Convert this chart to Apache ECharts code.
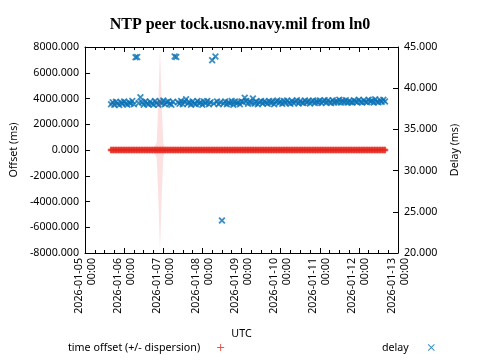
<!DOCTYPE html>
<html>
<head>
<meta charset="utf-8">
<script src="https://cdn.jsdelivr.net/npm/echarts@6/dist/echarts.min.js"></script>
<style>html,body{margin:0;padding:0;background:#fff;}#c{width:480px;height:360px;}</style>
</head>
<body>
<div id="c"></div>
<script>
// ---- data ----
const titleText = 'NTP peer tock.usno.navy.mil from ln0';
const sampleStartUTC = Date.UTC(2026, 0, 5, 16, 0);   // first sample
const sampleStepMs = 3600000;                          // hourly samples
const xTickStart = Date.UTC(2026, 0, 5);
const xTickEnd = Date.UTC(2026, 0, 13);
const offsetTicks = [-8000, -6000, -4000, -2000, 0, 2000, 4000, 6000, 8000];
const delayTicks = [20, 25, 30, 35, 40, 45];

// time offset (ms)
const offsetMs = [
  0.4, -0.2, 0.1, 0.6, -0.3, 0.2, 0.0, -0.5, 0.3, 0.1, -0.1, 0.5,
  0.2, -0.4, 0.3, 0.0, 0.6, -0.2, 0.1, -0.3, 0.4, 0.2, -0.1, 0.3,
  -0.2, 0.5, 0.1, -0.4, 0.2, 0.3, 0.0, -0.3, 0.4, 0.1, -0.2, 0.2,
  0.3, -0.1, 0.5, 0.0, -0.3, 0.2, 0.4, -0.2, 0.1, 0.3, -0.4, 0.2,
  0.1, 0.4, -0.2, 0.3, 0.0, -0.1, 0.5, 0.2, -0.3, 0.1, 0.3, -0.2,
  0.2, 0.0, 0.4, -0.3, 0.1, 0.3, -0.1, 0.2, 0.5, -0.2, 0.0, 0.3,
  -0.1, 0.4, 0.2, -0.3, 0.1, 0.3, 0.0, -0.2, 0.4, 0.1, -0.4, 0.2,
  0.3, -0.1, 0.1, 0.5, -0.2, 0.2, 0.0, -0.3, 0.3, 0.1, -0.1, 0.4,
  0.2, -0.2, 0.3, 0.0, 0.1, -0.4, 0.5, 0.2, -0.1, 0.3, 0.0, -0.2,
  0.4, 0.1, -0.3, 0.2, 0.3, -0.1, 0.0, 0.4, -0.2, 0.1, 0.3, -0.3,
  0.2, 0.0, 0.5, -0.1, 0.1, 0.3, -0.2, 0.2, 0.4, -0.3, 0.0, 0.1,
  0.3, -0.2, 0.2, 0.4, -0.1, 0.0, 0.3, -0.4, 0.1, 0.2, -0.1, 0.5,
  0.0, 0.2, -0.3, 0.3, 0.1, -0.2, 0.4, 0.0, -0.1, 0.3, 0.2, -0.3,
  0.1, 0.4, -0.2, 0.2, 0.0, 0.3, -0.1, 0.1, 0.5, -0.2, 0.2, 0.0,
  0.3
];
// dispersion (ms)
const dispersionMs = [
  42, 38, 45, 40, 36, 44, 39, 41, 47, 37, 43, 40,
  38, 46, 41, 39, 44, 37, 42, 40, 45, 38, 43, 41,
  39, 44, 40, 46, 600, 3800, 7900, 3800, 600, 41, 39, 44,
  40, 37, 45, 42, 38, 43, 41, 39, 46, 40, 37, 44,
  42, 38, 45, 41, 39, 43, 40, 44, 37, 42, 46, 39,
  41, 45, 38, 43, 40, 37, 44, 42, 39, 46, 41, 38,
  43, 40, 45, 39, 42, 37, 44, 41, 38, 46, 40, 43,
  39, 42, 45, 38, 41, 44, 40, 37, 43, 46, 39, 42,
  40, 38, 44, 41, 45, 39, 42, 37, 43, 40, 46, 38,
  41, 44, 39, 42, 37, 45, 40, 43, 38, 41, 46, 39,
  42, 40, 37, 44, 41, 38, 45, 39, 43, 40, 42, 46,
  38, 41, 44, 39, 42, 37, 45, 40, 43, 38, 41, 44,
  39, 46, 40, 42, 38, 43, 41, 37, 44, 39, 45, 40,
  42, 38, 43, 41, 46, 39, 40, 44, 37, 42, 41, 45,
  40
];
// delay (ms)
const delayMs = [
  38.05, 38.3, 38.0, 38.35, 38.15, 37.95, 38.3, 38.1, 38.4, 38.15, 38.0, 38.3,
  38.15, 38.45, 38.05, 43.75, 43.8, 38.2, 38.9, 38.3, 38.0, 38.4, 38.15, 38.05,
  38.35, 38.15, 38.0, 38.45, 38.2, 38.0, 38.4, 38.15, 38.5, 38.05, 38.3, 38.4,
  38.1, 38.0, 38.35, 43.85, 43.8, 38.3, 38.1, 38.45, 38.05, 38.35, 38.65, 38.15,
  38.3, 38.0, 38.4, 38.15, 38.05, 38.45, 38.15, 38.3, 38.0, 38.4, 38.15, 38.45,
  38.05, 38.3, 43.4, 38.15, 43.85, 38.4, 38.05, 38.3, 23.95, 38.15, 38.4, 38.05,
  38.3, 38.15, 38.45, 38.0, 38.4, 38.15, 38.3, 38.05, 38.4, 38.3, 38.85, 38.45,
  38.1, 38.4, 38.2, 38.75, 38.15, 38.4, 38.05, 38.3, 38.45, 38.15, 38.4, 38.25,
  38.1, 38.45, 38.2, 38.4, 38.05, 38.35, 38.5, 38.2, 38.4, 38.1, 38.45, 38.2,
  38.5, 38.25, 38.1, 38.45, 38.2, 38.35, 38.55, 38.15, 38.45, 38.25, 38.2, 38.5,
  38.25, 38.45, 38.15, 38.35, 38.5, 38.2, 38.45, 38.25, 38.5, 38.2, 38.4, 38.55,
  38.25, 38.5, 38.3, 38.2, 38.55, 38.25, 38.45, 38.3, 38.6, 38.25, 38.5, 38.3,
  38.55, 38.25, 38.45, 38.3, 38.25, 38.55, 38.4, 38.3, 38.6, 38.35, 38.25, 38.55,
  38.35, 38.3, 38.6, 38.35, 38.5, 38.25, 38.65, 38.35, 38.3, 38.55, 38.35, 38.6,
  38.4
];

// ---- build options ----
const sampleTimes = offsetMs.map((_, i) => sampleStartUTC + i * sampleStepMs);
const offsetData = sampleTimes.map((t, i) => [t, offsetMs[i]]);
const upperData = sampleTimes.map((t, i) => [t, offsetMs[i] + dispersionMs[i]]);
const lowerData = sampleTimes.map((t, i) => [t, offsetMs[i] - dispersionMs[i]]);
const delayData = sampleTimes.map((t, i) => [t, delayMs[i]]);

// thin glyphs for the legend, heavier ones for the dense series
const PLUS_THIN = 'path://M4.3,0H5.7V4.3H10V5.7H5.7V10H4.3V5.7H0V4.3H4.3Z';
const CROSS_THIN = 'path://M0,1L1,0L5,4L9,0L10,1L6,5L10,9L9,10L5,6L1,10L0,9L4,5Z';
const PLUS = 'path://M3.2,0H6.8V3.2H10V6.8H6.8V10H3.2V6.8H0V3.2H3.2Z';
const CROSS = 'path://M0,1.8L1.8,0L5,3.2L8.2,0L10,1.8L6.8,5L10,8.2L8.2,10L5,6.8L1.8,10L0,8.2L3.2,5Z';
const RED = '#e5261c';
const BLUE = '#0a72b5';
const FONT = 'Noto Sans';
const FS = 10.7;

function dayLabel(v) {
  const d = new Date(v).toISOString();
  return d.slice(0, 10) + '\n' + d.slice(11, 16);
}

const xCommon = {
  type: 'value',
  min: xTickStart,
  max: xTickEnd,
  interval: 86400000,
  axisLine: { show: true, onZero: false, lineStyle: { color: '#000', width: 1 } },
  axisTick: { show: true, inside: true, length: 5, lineStyle: { color: '#000' } },
  minorTick: { show: true, splitNumber: 4, length: 3, lineStyle: { color: '#000' } },
  splitLine: { show: false },
  minorSplitLine: { show: false }
};

const chart = echarts.init(document.getElementById('c'), null, { renderer: 'canvas' });
chart.setOption({
  animation: false,
  backgroundColor: '#fff',
  title: {
    text: titleText, left: 'center', top: 12,
    textStyle: { fontFamily: 'Liberation Serif', fontWeight: 'bold', fontSize: 16, color: '#000' }
  },
  grid: { left: 84, right: 82, top: 47, height: 206, containLabel: false },
  legend: [
    {
      data: [{ name: 'time offset (+/- dispersion)', icon: PLUS_THIN }],
      left: 63, top: 337, align: 'right', itemWidth: 7, itemHeight: 7,
      textStyle: { fontFamily: FONT, fontSize: FS, color: '#000', padding: [0, 12, 0, 0] },
      selectedMode: false
    },
    {
      data: [{ name: 'delay', icon: CROSS_THIN }],
      left: 377, top: 337, align: 'right', itemWidth: 7, itemHeight: 7,
      textStyle: { fontFamily: FONT, fontSize: FS, color: '#000', padding: [0, 14, 0, 0] },
      selectedMode: false
    }
  ],
  xAxis: [
    Object.assign({}, xCommon, {
      position: 'bottom',
      name: 'UTC', nameLocation: 'middle', nameGap: 75,
      nameTextStyle: { fontFamily: FONT, fontSize: FS, color: '#000' },
      axisLabel: {
        show: true, rotate: 90, margin: 5, formatter: dayLabel,
        fontFamily: FONT, fontSize: FS, color: '#000', lineHeight: 13
      }
    }),
    Object.assign({}, xCommon, { position: 'top', axisLabel: { show: false } })
  ],
  yAxis: [
    {
      type: 'value', position: 'left',
      min: offsetTicks[0], max: offsetTicks[offsetTicks.length - 1], interval: 2000,
      name: 'Offset (ms)', nameLocation: 'middle', nameRotate: 90, nameGap: 66,
      nameTextStyle: { fontFamily: FONT, fontSize: FS, color: '#000' },
      axisLine: { show: true, onZero: false, lineStyle: { color: '#000' } },
      axisTick: { show: true, inside: true, length: 5, lineStyle: { color: '#000' } },
      axisLabel: { margin: 6, formatter: v => v.toFixed(3), fontFamily: FONT, fontSize: FS, color: '#000' },
      splitLine: { show: false }
    },
    {
      type: 'value', position: 'right',
      min: delayTicks[0], max: delayTicks[delayTicks.length - 1], interval: 5,
      name: 'Delay (ms)', nameLocation: 'middle', nameRotate: 90, nameGap: 51,
      nameTextStyle: { fontFamily: FONT, fontSize: FS, color: '#000' },
      axisLine: { show: true, onZero: false, lineStyle: { color: '#000' } },
      axisTick: { show: true, inside: true, length: 5, lineStyle: { color: '#000' } },
      axisLabel: { margin: 6, formatter: v => v.toFixed(3), fontFamily: FONT, fontSize: FS, color: '#000' },
      splitLine: { show: false }
    }
  ],
  series: [
    {
      name: 'delay', type: 'scatter', xAxisIndex: 0, yAxisIndex: 1,
      data: delayData, symbol: CROSS, symbolSize: 7,
      itemStyle: { color: BLUE }, z: 2
    },
    {
      name: 'disp_upper', type: 'line', xAxisIndex: 0, yAxisIndex: 0,
      data: upperData, showSymbol: false, symbol: 'none',
      lineStyle: { width: 0 }, areaStyle: { origin: 0, color: 'rgba(235,60,60,0.22)' }, z: 3
    },
    {
      name: 'disp_lower', type: 'line', xAxisIndex: 0, yAxisIndex: 0,
      data: lowerData, showSymbol: false, symbol: 'none',
      lineStyle: { width: 0 }, areaStyle: { origin: 0, color: 'rgba(235,60,60,0.22)' }, z: 3
    },
    {
      name: 'time offset (+/- dispersion)', type: 'scatter', xAxisIndex: 0, yAxisIndex: 0,
      data: offsetData, symbol: PLUS, symbolSize: 6.5,
      itemStyle: { color: RED }, z: 4
    }
  ]
});
</script>
</body>
</html>
